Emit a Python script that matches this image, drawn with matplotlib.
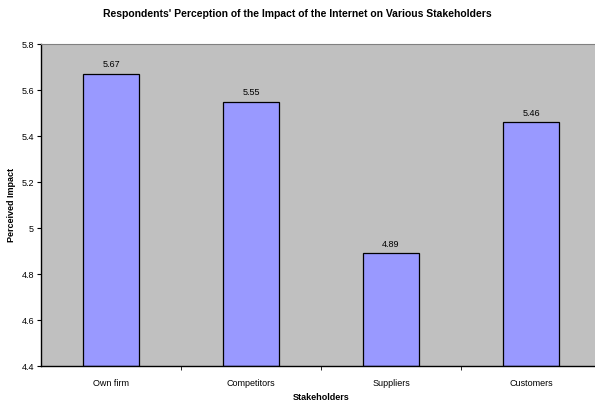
import numpy as np
import matplotlib
matplotlib.use("Agg")
import matplotlib.pyplot as plt

plt.rcParams['font.family'] = ['Liberation Sans', 'DejaVu Sans']

stakeholders = ['Own firm', 'Competitors', 'Suppliers', 'Customers']
impact = [5.67, 5.55, 4.89, 5.46]
y_ticks = [4.4, 4.6, 4.8, 5.0, 5.2, 5.4, 5.6, 5.8]
y_labels = ['4.4', '4.6', '4.8', '5', '5.2', '5.4', '5.6', '5.8']

fig = plt.figure(figsize=(5.95, 4.01), dpi=100)
ax = fig.add_axes([41/595, 35/401, 560/595, 322/401])
ax.set_facecolor('#c0c0c0')

x = np.arange(len(stakeholders))
ax.bar(x, [v - 4.4 for v in impact], bottom=4.4, width=0.4,
       color='#9999ff', edgecolor='black', linewidth=0.9)

for xi, v in zip(x, impact):
    ax.text(xi, v + 0.02, f'{v:.2f}', ha='center', va='bottom', fontsize=6.5)

ax.set_xlim(-0.5, len(stakeholders) - 0.5)
ax.set_ylim(4.4, 5.8)
ax.set_yticks(y_ticks)
ax.set_yticklabels(y_labels, fontsize=6.5)

# category labels without ticks, boundary ticks between categories
ax.set_xticks(x)
ax.set_xticklabels(stakeholders, fontsize=6.5)
ax.tick_params(axis='x', length=0, pad=9)
ax.set_xticks(np.arange(0.5, len(stakeholders) - 0.5, 1), minor=True)
ax.tick_params(axis='x', which='minor', length=3, direction='out')
ax.tick_params(axis='y', length=3, direction='out', pad=2)

ax.spines['top'].set_color('#808080')
ax.spines['right'].set_visible(False)
for s in ['left', 'bottom']:
    ax.spines[s].set_color('black')
    ax.spines[s].set_linewidth(1.0)

ax.set_xlabel('Stakeholders', fontsize=6.5, fontweight='bold', labelpad=4)
fig.text(12/595, 1 - 205/401, 'Perceived Impact', rotation=90, ha='center', va='center',
         fontsize=6.5, fontweight='bold')
fig.text(0.5, 1 - 14/401, "Respondents' Perception of the Impact of the Internet on Various Stakeholders",
         ha='center', va='center', fontsize=7.5, fontweight='bold')

fig.savefig('out.png', dpi=100)
